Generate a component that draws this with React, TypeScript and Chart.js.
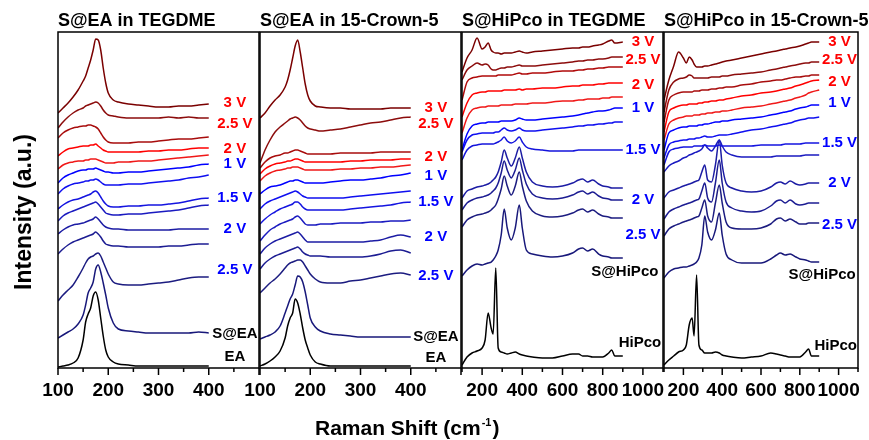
import React, { useEffect, useRef } from 'react';
import { Chart, registerables } from 'chart.js';

Chart.register(...registerables);

const FONT = '"Liberation Sans", Arial, Helvetica, sans-serif';
const W = 869;
const H = 440;
const PLOT_TOP = 32;
const PLOT_BOTTOM = 368;
const X_AXIS_H = 40;
const Y_MAX = 336;

// ---- Raman shift sample positions (cm-1) ----
const shiftEA = [100, 110, 120, 130, 140, 150, 155, 160, 165, 170, 175, 180, 185, 190, 195, 200, 210, 220, 240, 260, 280, 300, 320, 340, 360, 380, 400];
const shiftHiPco = [100, 125, 150, 175, 200, 215, 230, 245, 255, 268, 280, 295, 310, 325, 345, 365, 385, 400, 420, 450, 500, 550, 600, 650, 680, 700, 725, 750, 780, 800, 830, 845, 860, 900];

// ---- tick values ----
const eaTickValues = [100, 150, 200, 250, 300, 350, 400, 450, 500];
const eaMajorTicks = [100, 200, 300, 400, 500];
const eaTickLabels = [100, 200, 300, 400];
const hipcoTickValues = [100, 200, 300, 400, 500, 600, 700, 800, 900, 1000, 1100];
const hipcoMajorTicks = [200, 400, 600, 800, 1000];
const hipcoTickLabels = [200, 400, 600, 800, 1000];

// ---- Panel 1: S@EA in TEGDME (offset-stacked spectra, top to bottom) ----
const eaTeg01 = [255, 260, 265, 271, 278, 287, 292, 300, 308, 318, 329, 328, 318, 300, 285, 275, 268, 266, 264, 263, 262, 261, 261, 262, 262, 263, 264];
const eaTeg02 = [240, 246, 251, 255, 258, 260, 262, 263, 264, 265, 266, 265, 262, 258, 255, 253, 252, 251, 250, 250, 250, 250, 251, 250, 251, 250, 250];
const eaTeg03 = [230, 235, 238, 240, 241, 242, 242, 243, 243, 242, 241, 239, 235, 231, 228, 226, 225, 225, 225, 226, 226, 227, 228, 229, 229, 230, 231];
const eaTeg04 = [212, 216, 219, 220, 221, 222, 222, 222, 223, 223, 224, 222, 220, 218, 217, 216, 216, 216, 216, 216, 217, 217, 218, 218, 219, 220, 220];
const eaTeg05 = [199, 203, 205, 206, 207, 207, 208, 208, 209, 209, 209, 208, 207, 206, 205, 205, 205, 206, 206, 207, 207, 208, 209, 210, 211, 212, 213];
const eaTeg06 = [185, 190, 193, 195, 197, 198, 198, 199, 199, 199, 200, 199, 198, 197, 196, 196, 195, 195, 196, 196, 197, 198, 199, 200, 201, 203, 204];
const eaTeg07 = [174, 179, 182, 184, 185, 186, 187, 187, 188, 188, 189, 188, 186, 184, 183, 183, 183, 183, 184, 184, 185, 186, 187, 188, 190, 191, 193];
const eaTeg08 = [159, 163, 166, 168, 169, 171, 172, 173, 174, 176, 177, 175, 171, 167, 164, 162, 161, 161, 162, 162, 163, 163, 164, 165, 167, 169, 170];
const eaTeg09 = [147, 152, 155, 157, 159, 161, 162, 163, 164, 165, 166, 164, 161, 158, 155, 154, 153, 153, 154, 154, 155, 156, 157, 158, 160, 162, 163];
const eaTeg10 = [134, 138, 141, 143, 144, 145, 146, 147, 148, 149, 151, 149, 146, 143, 141, 140, 139, 139, 138, 138, 138, 138, 138, 139, 139, 139, 139];
const eaTeg11 = [114, 119, 123, 126, 128, 130, 131, 132, 133, 134, 136, 134, 131, 127, 124, 123, 122, 122, 121, 121, 121, 121, 122, 122, 123, 124, 124];
const eaTeg12 = [67, 73, 78, 83, 91, 100, 105, 109, 111, 112, 114, 115, 112, 106, 100, 94, 86, 84, 83, 83, 84, 85, 86, 88, 90, 91, 91];
const eaTegSEA = [30, 33, 36, 39, 44, 53, 63, 75, 80, 86, 99, 103, 96, 85, 73, 60, 45, 39, 37, 36, 35, 35, 35, 35, 35, 36, 35];
const eaTegEA = [1, 2, 3, 5, 10, 28, 46, 54, 60, 72, 76, 68, 50, 32, 18, 11, 6, 4, 3, 2, 2, 2, 2, 2, 2, 2, 2];

// ---- Panel 2: S@EA in 15-Crown-5 ----
const eaCrown01 = [250, 255, 262, 268, 273, 281, 288, 298, 310, 322, 328, 316, 300, 284, 273, 267, 262, 261, 260, 260, 259, 259, 259, 259, 260, 260, 260];
const eaCrown02 = [205, 218, 228, 236, 241, 245, 247, 249, 250, 251, 250, 248, 245, 242, 240, 239, 238, 237, 238, 239, 241, 243, 245, 246, 248, 250, 251];
const eaCrown03 = [200, 206, 210, 212, 213, 215, 215, 216, 217, 218, 218, 217, 216, 215, 214, 214, 214, 214, 214, 215, 215, 215, 215, 216, 216, 216, 216];
const eaCrown04 = [194, 199, 202, 204, 205, 206, 207, 207, 208, 209, 209, 208, 207, 206, 206, 206, 206, 206, 206, 206, 207, 207, 208, 208, 208, 209, 209];
const eaCrown05 = [187, 192, 195, 197, 198, 199, 200, 200, 201, 201, 201, 200, 199, 198, 198, 198, 198, 198, 198, 199, 199, 200, 200, 201, 201, 202, 203];
const eaCrown06 = [174, 178, 181, 182, 183, 185, 186, 187, 187, 188, 188, 187, 186, 185, 185, 185, 185, 185, 186, 187, 188, 188, 189, 190, 192, 193, 195];
const eaCrown07 = [159, 164, 167, 169, 171, 173, 174, 175, 176, 177, 176, 174, 172, 171, 170, 170, 170, 170, 170, 170, 171, 172, 173, 174, 175, 176, 177];
const eaCrown08 = [144, 149, 153, 156, 159, 161, 162, 163, 164, 166, 166, 164, 161, 159, 158, 158, 158, 158, 158, 158, 159, 160, 161, 162, 163, 165, 166];
const eaCrown09 = [127, 133, 138, 141, 144, 146, 147, 148, 149, 151, 152, 150, 147, 144, 143, 143, 143, 144, 144, 145, 145, 145, 146, 146, 147, 147, 148];
const eaCrown10 = [114, 120, 124, 127, 129, 131, 132, 133, 134, 135, 136, 134, 131, 128, 126, 126, 126, 126, 126, 126, 126, 126, 127, 128, 131, 133, 131];
const eaCrown11 = [99, 105, 109, 112, 114, 116, 117, 118, 119, 120, 121, 119, 116, 114, 113, 112, 112, 112, 111, 111, 111, 111, 112, 114, 117, 118, 115];
const eaCrown12 = [75, 80, 85, 89, 94, 100, 103, 105, 106, 107, 108, 108, 106, 102, 98, 94, 89, 86, 85, 85, 87, 88, 90, 92, 94, 95, 93];
const eaCrownSEA = [29, 31, 33, 36, 42, 55, 62, 69, 74, 83, 92, 91, 86, 76, 63, 50, 41, 37, 34, 33, 32, 31, 31, 31, 31, 31, 31];
const eaCrownEA = [2, 4, 7, 11, 17, 30, 42, 50, 55, 69, 65, 54, 40, 28, 20, 13, 6, 4, 2, 2, 2, 2, 2, 2, 2, 2, 2];

// ---- Panel 3: S@HiPco in TEGDME ----
const hpTeg01 = [296, 310, 318, 330, 319, 321, 325, 318, 316, 315, 315, 314, 315, 315, 315, 316, 317, 316, 315, 316, 317, 318, 319, 320, 320, 321, 321, 322, 323, 324, 327, 328, 325, 326];
const hpTeg02 = [288, 298, 302, 305, 303, 304, 303, 299, 298, 298, 299, 300, 300, 301, 301, 302, 303, 302, 302, 302, 303, 304, 305, 306, 307, 307, 308, 308, 309, 309, 310, 311, 311, 311];
const hpTeg03 = [268, 286, 290, 291, 292, 292, 292, 292, 292, 292, 293, 293, 293, 293, 293, 294, 295, 294, 294, 295, 295, 296, 297, 297, 298, 298, 299, 299, 300, 300, 301, 301, 301, 301];
const hpTeg04 = [251, 265, 273, 275, 276, 276, 277, 277, 277, 277, 277, 277, 278, 278, 278, 278, 279, 278, 279, 279, 280, 280, 281, 282, 282, 283, 283, 283, 284, 284, 285, 285, 285, 285];
const hpTeg05 = [235, 250, 258, 260, 261, 261, 262, 262, 262, 262, 262, 263, 263, 263, 263, 264, 264, 264, 264, 265, 265, 266, 267, 267, 268, 268, 269, 269, 269, 270, 270, 271, 271, 271];
const hpTeg06 = [218, 234, 242, 244, 245, 245, 246, 246, 246, 246, 246, 247, 247, 247, 247, 248, 250, 249, 248, 248, 249, 250, 251, 252, 253, 254, 255, 256, 257, 257, 258, 259, 260, 260];
const hpTeg07 = [216, 228, 233, 234, 235, 235, 235, 235, 235, 236, 236, 238, 240, 238, 237, 238, 240, 238, 237, 237, 238, 239, 240, 241, 242, 242, 243, 243, 244, 244, 245, 245, 246, 246];
const hpTeg08 = [208, 218, 222, 223, 224, 224, 224, 224, 224, 225, 226, 228, 231, 227, 225, 227, 231, 226, 221, 219, 218, 217, 217, 217, 218, 218, 218, 218, 218, 218, 218, 218, 218, 218];
const hpTeg09 = [170, 177, 179, 181, 182, 183, 184, 186, 188, 191, 196, 206, 218, 210, 202, 210, 221, 210, 196, 186, 182, 181, 182, 185, 188, 189, 186, 188, 184, 182, 181, 180, 180, 180];
const hpTeg10 = [158, 165, 168, 170, 171, 172, 173, 175, 177, 180, 185, 195, 207, 198, 190, 198, 210, 198, 184, 174, 170, 169, 170, 173, 176, 177, 174, 176, 172, 170, 169, 168, 168, 168];
const hpTeg11 = [141, 148, 151, 153, 154, 155, 156, 158, 160, 163, 169, 179, 192, 182, 173, 182, 196, 182, 167, 157, 152, 151, 152, 155, 158, 159, 156, 158, 154, 152, 151, 150, 150, 150];
const hpTegSHiPco = [92, 98, 102, 104, 103, 104, 105, 106, 108, 112, 118, 133, 159, 140, 128, 140, 163, 140, 118, 114, 112, 111, 112, 115, 119, 120, 117, 119, 114, 112, 111, 110, 110, 110];
const hpTegHiPco = [3, 11, 15, 17, 20, 28, 55, 40, 34, 100, 20, 16, 15, 14, 15, 16, 14, 13, 12, 11, 10, 10, 12, 14, 14, 12, 12, 11, 11, 11, 15, 18, 12, 12];

// ---- Panel 4: S@HiPco in 15-Crown-5 ----
const hpCrown01 = [268, 288, 302, 316, 310, 305, 311, 308, 304, 301, 301, 301, 302, 302, 303, 304, 305, 306, 307, 308, 310, 312, 314, 316, 317, 318, 319, 320, 321, 322, 324, 325, 326, 326];
const hpCrown02 = [256, 278, 286, 289, 290, 291, 293, 292, 290, 290, 290, 290, 290, 290, 291, 291, 291, 292, 292, 293, 294, 295, 296, 298, 299, 300, 301, 302, 303, 304, 305, 305, 306, 306];
const hpCrown03 = [246, 268, 273, 275, 276, 276, 276, 276, 277, 277, 277, 278, 278, 278, 279, 279, 280, 280, 281, 281, 283, 284, 286, 287, 288, 288, 289, 290, 291, 291, 292, 292, 293, 293];
const hpCrown04 = [236, 256, 260, 262, 263, 263, 264, 264, 264, 264, 265, 265, 266, 266, 267, 267, 268, 268, 269, 270, 272, 273, 275, 276, 277, 278, 279, 280, 282, 283, 285, 286, 287, 288];
const hpCrown05 = [228, 244, 248, 250, 251, 252, 252, 252, 253, 253, 253, 254, 254, 255, 255, 256, 256, 257, 257, 258, 260, 261, 262, 264, 265, 266, 267, 268, 270, 271, 273, 275, 276, 278];
const hpCrown06 = [218, 235, 238, 240, 241, 241, 242, 242, 242, 242, 243, 243, 244, 244, 245, 246, 246, 247, 247, 248, 249, 250, 251, 253, 254, 255, 256, 257, 259, 260, 261, 262, 263, 263];
const hpCrown07 = [210, 223, 226, 227, 228, 228, 229, 229, 229, 230, 230, 231, 232, 231, 231, 232, 233, 233, 233, 234, 236, 238, 239, 241, 242, 243, 244, 245, 247, 248, 249, 250, 250, 251];
const hpCrown08 = [203, 216, 219, 220, 221, 221, 221, 221, 222, 222, 222, 222, 223, 222, 222, 222, 223, 222, 222, 222, 222, 222, 223, 223, 223, 223, 224, 224, 224, 224, 225, 225, 225, 225];
const hpCrown09 = [196, 202, 205, 207, 210, 211, 213, 214, 215, 216, 217, 219, 223, 220, 217, 222, 228, 222, 216, 213, 211, 211, 211, 211, 212, 212, 212, 212, 212, 212, 213, 213, 213, 213];
const hpCrown10 = [170, 176, 178, 180, 182, 183, 184, 185, 186, 187, 188, 196, 203, 188, 186, 203, 228, 203, 185, 180, 177, 176, 177, 181, 185, 186, 184, 187, 184, 183, 184, 185, 185, 185];
const hpCrown11 = [149, 156, 159, 161, 163, 164, 165, 166, 167, 168, 169, 177, 185, 170, 166, 185, 208, 185, 166, 160, 157, 156, 157, 162, 167, 168, 165, 168, 164, 163, 164, 165, 165, 165];
const hpCrown12 = [132, 139, 142, 144, 146, 147, 148, 149, 150, 151, 152, 160, 168, 152, 146, 165, 183, 165, 146, 140, 139, 139, 140, 144, 149, 150, 147, 149, 146, 144, 144, 145, 145, 145];
const hpCrownSHiPco = [90, 96, 99, 100, 101, 101, 102, 103, 104, 106, 110, 123, 152, 136, 128, 138, 155, 133, 114, 108, 105, 105, 105, 109, 113, 115, 113, 114, 111, 109, 108, 107, 106, 106];
const hpCrownHiPco = [3, 8, 12, 16, 18, 23, 43, 50, 32, 93, 23, 18, 15, 15, 15, 16, 15, 13, 12, 11, 10, 11, 12, 15, 14, 13, 12, 11, 11, 11, 16, 19, 12, 12];

// ---- colours of the stacked curves ----
const colors14 = ['#7a0000', '#8c0c0c', '#a80c0c', '#ff0000', '#f01818', '#0000ff', '#0f0ff0', '#1414e0', '#1a1ac0', '#1c1ca4', '#1c1c92', '#1c1c80', '#18187a', '#000000'];
const colors13 = ['#7a0000', '#8c0c0c', '#b00a0a', '#ff0000', '#f01818', '#0000ff', '#0f0ff0', '#1414dc', '#1c1ca4', '#1c1c92', '#1c1c80', '#18187a', '#000000'];

// ---- curve tags ----
const RED = '#ff0000';
const BLUE = '#0000ff';
const BLK = '#000000';
const eaTags = ['3 V', '2.5 V', '2 V', '1 V', '1.5 V', '2 V', '2.5 V', 'S@EA', 'EA'];
const hpTags = ['3 V', '2.5 V', '2 V', '1 V', '1.5 V', '2 V', '2.5 V', 'S@HiPco', 'HiPco'];
const tagColors = [RED, RED, RED, BLUE, BLUE, BLUE, BLUE, BLK, BLK];
const eaTegTagX = [452, 452, 452, 452, 452, 452, 452, 452, 452];
const eaTegTagY = [265, 244, 219, 204, 170, 139, 98, 34, 11];
const eaCrownTagX = [450, 450, 450, 450, 450, 450, 450, 450, 450];
const eaCrownTagY = [260, 244, 211, 192, 166, 131, 92, 31, 10];
const hpTegTagX = [1000, 1000, 1000, 1000, 1000, 1000, 1000, 910, 985];
const hpTegTagY = [326, 308, 283, 260, 218, 168, 133, 96, 25];
const hpCrownTagX = [1005, 1005, 1005, 1005, 1005, 1005, 1005, 915, 985];
const hpCrownTagY = [326, 308, 286, 265, 225, 185, 143, 93, 22];

const panels = [
  {
    title: 'S@EA in TEGDME', left: 58, right: 259, xMin: 100, xMax: 500,
    xs: shiftEA,
    curves: [eaTeg01, eaTeg02, eaTeg03, eaTeg04, eaTeg05, eaTeg06, eaTeg07, eaTeg08, eaTeg09, eaTeg10, eaTeg11, eaTeg12, eaTegSEA, eaTegEA],
    colors: colors14,
    tickValues: eaTickValues, majorTicks: eaMajorTicks, tickLabels: eaTickLabels,
    tags: eaTags, tagX: eaTegTagX, tagY: eaTegTagY,
  },
  {
    title: 'S@EA in 15-Crown-5', left: 260, right: 461, xMin: 100, xMax: 500,
    xs: shiftEA,
    curves: [eaCrown01, eaCrown02, eaCrown03, eaCrown04, eaCrown05, eaCrown06, eaCrown07, eaCrown08, eaCrown09, eaCrown10, eaCrown11, eaCrown12, eaCrownSEA, eaCrownEA],
    colors: colors14,
    tickValues: eaTickValues, majorTicks: eaMajorTicks, tickLabels: eaTickLabels,
    tags: eaTags, tagX: eaCrownTagX, tagY: eaCrownTagY,
  },
  {
    title: 'S@HiPco in TEGDME', left: 462, right: 663, xMin: 100, xMax: 1100,
    xs: shiftHiPco,
    curves: [hpTeg01, hpTeg02, hpTeg03, hpTeg04, hpTeg05, hpTeg06, hpTeg07, hpTeg08, hpTeg09, hpTeg10, hpTeg11, hpTegSHiPco, hpTegHiPco],
    colors: colors13,
    tickValues: hipcoTickValues, majorTicks: hipcoMajorTicks, tickLabels: hipcoTickLabels,
    tags: hpTags, tagX: hpTegTagX, tagY: hpTegTagY,
  },
  {
    title: 'S@HiPco in 15-Crown-5', left: 664, right: 864, xMin: 100, xMax: 1100,
    xs: shiftHiPco,
    curves: [hpCrown01, hpCrown02, hpCrown03, hpCrown04, hpCrown05, hpCrown06, hpCrown07, hpCrown08, hpCrown09, hpCrown10, hpCrown11, hpCrown12, hpCrownSHiPco, hpCrownHiPco],
    colors: colors14,
    tickValues: hipcoTickValues, majorTicks: hipcoMajorTicks, tickLabels: hipcoTickLabels,
    tags: hpTags, tagX: hpCrownTagX, tagY: hpCrownTagY,
  },
];

function makeDecor(cfg: any, idx: number, withAxisTitles: boolean) {
  return {
    id: 'decor' + idx,
    afterDraw(chart: any) {
      const ctx = chart.ctx;
      const { left, right, top, bottom } = chart.chartArea;
      const xs = chart.scales.x;
      const ys = chart.scales.y;
      ctx.save();
      ctx.strokeStyle = '#000';
      ctx.lineWidth = 1.5;
      ctx.strokeRect(left, top, right - left, bottom - top);
      ctx.beginPath();
      cfg.tickValues.forEach((v: number) => {
        const px = xs.getPixelForValue(v);
        const len = cfg.majorTicks.includes(v) ? 7 : 4;
        ctx.moveTo(px, bottom);
        ctx.lineTo(px, bottom + len);
      });
      ctx.stroke();

      ctx.fillStyle = '#000';
      ctx.font = `bold 18px ${FONT}`;
      ctx.textAlign = 'left';
      ctx.textBaseline = 'alphabetic';
      ctx.fillText(cfg.title, left, 26);

      ctx.font = `bold 15px ${FONT}`;
      ctx.textAlign = 'center';
      ctx.textBaseline = 'middle';
      cfg.tags.forEach((t: string, i: number) => {
        ctx.fillStyle = tagColors[i];
        ctx.fillText(t, xs.getPixelForValue(cfg.tagX[i]), ys.getPixelForValue(cfg.tagY[i]));
      });

      if (withAxisTitles) {
        ctx.fillStyle = '#000';
        ctx.save();
        ctx.translate(31, 212);
        ctx.rotate(-Math.PI / 2);
        ctx.font = `bold 23px ${FONT}`;
        ctx.textAlign = 'center';
        ctx.textBaseline = 'alphabetic';
        ctx.fillText('Intensity (a.u.)', 0, 0);
        ctx.restore();

        ctx.textAlign = 'left';
        ctx.textBaseline = 'alphabetic';
        let x = 315;
        const base = 435;
        const t1 = 'Raman Shift (cm';
        ctx.font = `bold 21px ${FONT}`;
        ctx.fillText(t1, x, base);
        x += ctx.measureText(t1).width + 1;
        ctx.font = `bold 11px ${FONT}`;
        ctx.fillText('-1', x, base - 9);
        x += ctx.measureText('-1').width;
        ctx.font = `bold 21px ${FONT}`;
        ctx.fillText(')', x + 1, base);
      }
      ctx.restore();
    },
  };
}

function PanelCanvas({ cfg, idx }: { cfg: any; idx: number }) {
  const ref = useRef<HTMLCanvasElement | null>(null);
  useEffect(() => {
    if (!ref.current) return;
    const chart = new Chart(ref.current, {
      type: 'line',
      data: {
        datasets: cfg.curves.map((c: number[], i: number) => ({
          data: cfg.xs.map((x: number, j: number) => ({ x, y: c[j] })),
          borderColor: cfg.colors[i],
          borderWidth: 1.5,
          pointRadius: 0,
          fill: false,
          cubicInterpolationMode: 'monotone',
        })),
      },
      options: {
        responsive: false,
        animation: false,
        devicePixelRatio: 1,
        events: [],
        layout: {
          padding: { left: cfg.left, right: W - cfg.right, top: PLOT_TOP, bottom: H - PLOT_BOTTOM - X_AXIS_H },
        },
        plugins: { legend: { display: false }, tooltip: { enabled: false }, title: { display: false } },
        scales: {
          x: {
            type: 'linear',
            min: cfg.xMin,
            max: cfg.xMax,
            grid: { display: false, drawTicks: false },
            border: { display: false },
            afterBuildTicks: (s: any) => {
              s.ticks = cfg.tickValues.map((v: number) => ({ value: v }));
            },
            afterFit: (s: any) => {
              s.height = X_AXIS_H;
            },
            ticks: {
              autoSkip: false,
              maxRotation: 0,
              minRotation: 0,
              padding: 11,
              color: '#000',
              font: { family: FONT, size: 19, weight: 'bold' },
              callback: (v: any) => (cfg.tickLabels.includes(v) ? String(v) : ''),
            },
          },
          y: { type: 'linear', display: false, min: 0, max: Y_MAX },
        },
      },
      plugins: [makeDecor(cfg, idx, idx === 0)],
    } as any);
    return () => chart.destroy();
  }, [cfg, idx]);
  return (
    <canvas
      ref={ref}
      width={W}
      height={H}
      style={{ position: 'absolute', left: 0, top: 0, width: W, height: H }}
    />
  );
}

export default function App() {
  return (
    <div style={{ position: 'fixed', left: 0, top: 0, width: W, height: H, background: '#fff', overflow: 'hidden' }}>
      {panels.map((cfg, i) => (
        <PanelCanvas key={i} cfg={cfg} idx={i} />
      ))}
    </div>
  );
}
